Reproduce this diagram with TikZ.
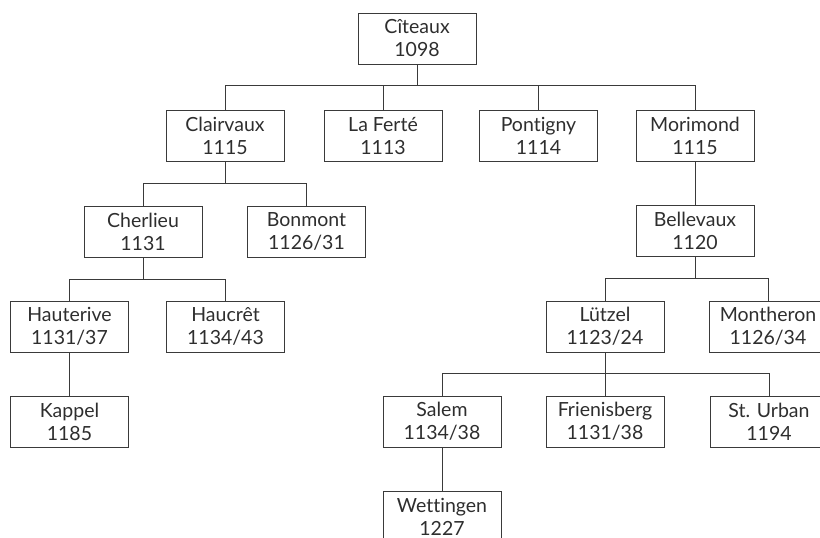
\documentclass[tikz,border=0pt]{standalone}
\usepackage{fontspec}
\setmainfont{Lato}[Ligatures=NoCommon]
\begin{document}
\begin{tikzpicture}[x=1pt,y=-1pt,
  abbey/.style={draw=linec, line width=1pt, minimum width=118pt, minimum height=51pt,
    inner sep=0pt, align=center, text=textc, font=\fontsize{19.5}{23}\selectfont},
  link/.style={draw=linec, line width=1pt}]
\definecolor{linec}{HTML}{3A3A3A}
\definecolor{textc}{HTML}{2E2E2E}
\useasboundingbox (0,0) rectangle (820,538);
\clip (0,0) rectangle (820,538);
\node[abbey] (citeaux) at (417,38.5) {Cîteaux\\1098};
\node[abbey] (clairvaux) at (225,136) {Clairvaux\\1115};
\node[abbey] (laferte) at (383,136) {La Ferté\\1113};
\node[abbey] (pontigny) at (538.5,136) {Pontigny\\1114};
\node[abbey] (morimond) at (695,136) {Morimond\\1115};
\node[abbey] (cherlieu) at (143,231.5) {Cherlieu\\1131};
\node[abbey] (bonmont) at (306.5,231.5) {Bonmont\\1126/31};
\node[abbey] (bellevaux) at (695,231) {Bellevaux\\1120};
\node[abbey] (hauterive) at (69.5,326.5) {Hauterive\\1131/37};
\node[abbey] (haucret) at (225.5,326.5) {Haucrêt\\1134/43};
\node[abbey] (lutzel) at (605,326.5) {Lützel\\1123/24};
\node[abbey] (montheron) at (768,326.5) {Montheron\\1126/34};
\node[abbey] (kappel) at (69.5,422) {Kappel\\1185};
\node[abbey] (salem) at (442,421.5) {Salem\\1134/38};
\node[abbey] (frienisberg) at (605,421.5) {Frienisberg\\1131/38};
\node[abbey] (sturban) at (769,421.5) {St. Urban\\1194};
\node[abbey] (wettingen) at (442,516.5) {Wettingen\\1227};
\coordinate (b1) at (417,85);
\coordinate (b2) at (225,183);
\coordinate (b3) at (143,279);
\coordinate (b4) at (695,278);
\coordinate (b5) at (605,373);
% Citeaux
\draw[link] (citeaux.south) -- (b1);
\draw[link] (clairvaux.north) -- (clairvaux.north |- b1) -- (morimond.north |- b1) -- (morimond.north);
\draw[link] (laferte.north) -- (laferte.north |- b1);
\draw[link] (pontigny.north) -- (pontigny.north |- b1);
% Clairvaux
\draw[link] (clairvaux.south) -- (b2);
\draw[link] (cherlieu.north) -- (cherlieu.north |- b2) -- (bonmont.north |- b2) -- (bonmont.north);
% Cherlieu
\draw[link] (cherlieu.south) -- (b3);
\draw[link] (hauterive.north) -- (hauterive.north |- b3) -- (haucret.north |- b3) -- (haucret.north);
\draw[link] (hauterive.south) -- (kappel.north);
% Morimond
\draw[link] (morimond.south) -- (bellevaux.north);
\draw[link] (bellevaux.south) -- (b4);
\draw[link] (lutzel.north) -- (lutzel.north |- b4) -- (montheron.north |- b4) -- (montheron.north);
% Lutzel
\draw[link] (lutzel.south) -- (b5);
\draw[link] (salem.north) -- (salem.north |- b5) -- (sturban.north |- b5) -- (sturban.north);
\draw[link] (frienisberg.north) -- (frienisberg.north |- b5);
\draw[link] (salem.south) -- (wettingen.north);
\end{tikzpicture}
\end{document}
